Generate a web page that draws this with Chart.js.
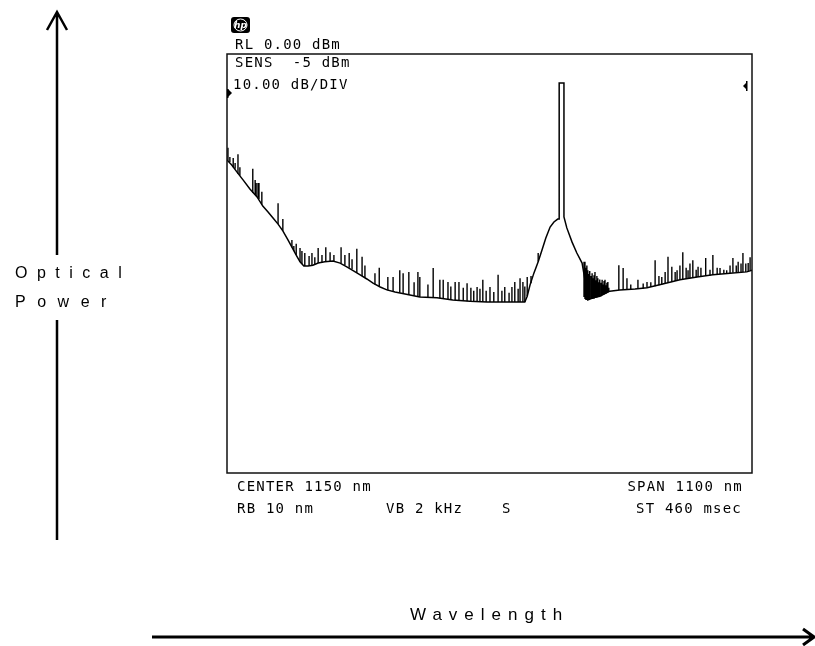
<!DOCTYPE html>
<html>
<head>
<meta charset="utf-8">
<script src="https://cdn.jsdelivr.net/npm/chart.js@4/dist/chart.umd.min.js"></script>
<style>
  html, body { margin: 0; padding: 0; background: #fff; }
  canvas { display: block; }
</style>
</head>
<body>
<canvas id="osa" width="815" height="646"></canvas>
<script>
// smooth part of the trace: wavelength (nm), power (dBm)
const baseNm = [
  600, 610, 621, 634, 648, 663, 675, 686, 696, 707, 717, 728, 736, 745, 753, 761, 770, 780, 791,
  805, 822, 837, 851, 866, 879, 893, 906, 921, 935, 952, 973, 1004, 1040, 1073, 1109, 1145, 1172,
  1203, 1224, 1229, 1235, 1243, 1252, 1260, 1268, 1277, 1285, 1293, 1296, 1296, 1306, 1306, 1312,
  1323, 1333, 1344, 1350, 1356, 1367, 1381, 1402, 1423, 1455, 1480, 1513, 1549, 1585, 1618, 1654,
  1689, 1700
]
const baseDbm = [
  -25.3, -26.5, -28.2, -30.1, -32.2, -34.1, -36.3, -37.7, -39.1, -40.6, -42.2, -44.4, -46.1, -48.0, -49.6, -50.6, -50.6, -50.4, -49.9,
  -49.6, -49.4, -49.9, -50.8, -51.8, -52.7, -53.7, -54.7, -55.6, -56.3, -56.8, -57.3, -58.0, -58.2, -58.7, -59.0, -59.2, -59.2,
  -59.2, -59.2, -57.8, -55.1, -52.3, -49.6, -46.8, -43.9, -41.3, -40.1, -39.4, -39.4, -6.9, -6.9, -38.9, -41.5,
  -44.9, -47.5, -49.9, -53.9, -58.7, -58.2, -57.8, -56.6, -56.3, -56.1, -55.8, -54.9, -53.9, -53.2, -52.7, -52.3,
  -52.0, -51.6
]

// noise spikes on the trace: wavelength (nm), tip and foot (dBm)
const spikeNm = [
  602, 606, 613, 617, 623, 627, 654, 659, 661, 665, 667, 673, 707, 717, 736, 740, 745, 753, 757, 763,
  772, 778, 784, 791, 799, 807, 816, 824, 839, 847, 856, 862, 872, 883, 889, 910, 919, 937, 948, 962,
  969, 981, 992, 1000, 1004, 1021, 1032, 1046, 1053, 1063, 1069, 1078, 1086, 1095, 1103, 1111, 1117, 1124,
  1130, 1136, 1143, 1151, 1159, 1168, 1176, 1182, 1191, 1197, 1203, 1210, 1214, 1220, 1224, 1229, 1237, 1252,
  1348, 1350, 1352, 1354, 1356, 1358, 1360, 1363, 1365, 1367, 1369, 1371, 1373, 1375, 1377, 1379, 1381, 1384,
  1386, 1388, 1390, 1392, 1394, 1396, 1398, 1400,
  1421, 1430, 1438, 1446, 1461, 1472, 1480, 1488, 1497, 1505, 1511, 1518, 1524, 1532, 1539, 1543, 1549, 1555,
  1562, 1566, 1570, 1576, 1583, 1587, 1593, 1603, 1612, 1618, 1627, 1633, 1641, 1647, 1654, 1660, 1667, 1671,
  1677, 1681, 1687, 1692, 1696
]
const spikeTop = [
  -22.4, -24.6, -24.8, -26.0, -23.9, -27.0, -27.4, -30.1, -30.8, -30.8, -30.8, -32.9, -35.6, -39.4, -44.4, -45.8, -45.3, -46.3, -47.0, -47.5,
  -48.2, -47.5, -48.5, -46.3, -48.0, -46.1, -47.3, -48.0, -46.1, -48.0, -47.5, -49.0, -46.5, -48.4, -50.5, -52.3, -51.0, -53.2, -53.2, -51.6,
  -52.3, -52.0, -54.5, -52.0, -53.2, -55.0, -51.1, -53.9, -53.9, -54.4, -55.5, -54.4, -54.4, -55.8, -54.7, -55.8, -56.5, -55.6,
  -56.0, -53.9, -56.5, -55.6, -56.8, -52.7, -56.5, -55.6, -57.0, -55.6, -54.4, -56.0, -53.5, -54.4, -55.5, -53.2, -53.0, -47.5,
  -49.6, -49.6, -51.0, -50.5, -51.6, -52.5, -51.8, -53.0, -52.3, -53.5, -52.8, -52.0, -54.0, -53.0, -53.5, -54.5, -53.8, -54.6,
  -53.9, -55.0, -54.2, -53.9, -55.2, -54.6, -54.4, -55.8,
  -50.4, -51.1, -53.5, -55.0, -53.9, -54.8, -54.4, -54.5, -49.2, -53.0, -53.2, -52.0, -48.4, -50.8, -52.0, -51.6, -50.5, -47.3,
  -51.0, -51.6, -50.0, -49.2, -51.5, -50.8, -51.0, -48.7, -51.5, -48.0, -51.0, -51.1, -51.5, -51.6, -50.5, -48.7, -50.5, -49.6,
  -50.0, -47.5, -50.0, -49.9, -48.5
]
const spikeFoot = [
  -25.5, -25.8, -27.0, -27.4, -28.6, -29.0, -33.2, -33.6, -33.9, -34.3, -34.6, -36.0, -40.6, -42.2, -46.1, -47.0, -48.0, -49.6, -50.1, -50.6,
  -50.6, -50.4, -50.2, -49.9, -49.8, -49.6, -49.5, -49.5, -50.0, -50.4, -51.0, -51.4, -52.2, -53.0, -53.4, -55.0, -55.4, -56.4, -56.7, -57.0,
  -57.1, -57.5, -57.7, -57.9, -58.0, -58.1, -58.2, -58.3, -58.4, -58.5, -58.6, -58.7, -58.8, -58.9, -59.0, -59.0, -59.1, -59.1,
  -59.1, -59.2, -59.2, -59.2, -59.2, -59.2, -59.2, -59.2, -59.2, -59.2, -59.2, -59.2, -59.2, -59.2, -59.2, -57.8, -54.7, -49.6,
  -58.0, -58.5, -58.7, -58.7, -58.7, -58.7, -58.5, -58.5, -58.5, -58.4, -58.4, -58.2, -58.2, -58.1, -58.0, -58.0, -57.8, -57.8,
  -57.6, -57.5, -57.4, -57.3, -57.2, -57.0, -56.9, -56.8,
  -56.3, -56.3, -56.3, -56.2, -56.1, -56.0, -55.8, -55.6, -55.4, -55.2, -55.0, -54.7, -54.6, -54.4, -54.2, -54.1, -53.9, -53.8,
  -53.7, -53.6, -53.5, -53.4, -53.3, -53.2, -53.1, -53.0, -52.9, -52.7, -52.6, -52.5, -52.4, -52.3, -52.3, -52.2, -52.1, -52.1,
  -52.0, -52.0, -52.0, -51.8, -51.7
]

// screen annotations
const topLines = ['RL 0.00 dBm', 'SENS  -5 dBm', '10.00 dB/DIV']
const bottomLeft = ['CENTER 1150 nm', 'RB 10 nm']
const bottomMid = ['VB 2 kHz', 'S']
const bottomRight = ['SPAN 1100 nm', 'ST 460 msec']
const yTitle = ['Optical', 'Power']
const xTitle = 'Wavelength'

const screenFont = '14px "DejaVu Sans Mono", monospace'

const decorations = {
  id: 'decorations',
  afterDraw(chart) {
    const ctx = chart.ctx
    const a = chart.chartArea
    ctx.save()

    // graticule frame
    ctx.strokeStyle = '#111'
    ctx.lineWidth = 1.5
    ctx.strokeRect(a.left, a.top, a.right - a.left, a.bottom - a.top)

    // hp logo
    ctx.fillStyle = '#000'
    ctx.beginPath()
    ctx.roundRect(231, 17, 19, 16, 3)
    ctx.fill()
    ctx.strokeStyle = '#fff'
    ctx.lineWidth = 1
    ctx.beginPath()
    ctx.ellipse(240.5, 25, 6.5, 6, 0, 0, Math.PI * 2)
    ctx.stroke()
    ctx.fillStyle = '#fff'
    ctx.font = 'italic bold 9px "DejaVu Sans", sans-serif'
    ctx.textAlign = 'center'
    ctx.textBaseline = 'middle'
    ctx.fillText('hp', 240.5, 25.5)

    // screen text
    ctx.fillStyle = '#000'
    ctx.font = screenFont
    ctx.letterSpacing = '1.2px'
    ctx.textBaseline = 'alphabetic'
    ctx.textAlign = 'left'
    ctx.fillText(topLines[0], 235, 49)
    ctx.fillText(topLines[1], 235, 67)
    ctx.fillText(topLines[2], 233, 89)
    ctx.fillText(bottomLeft[0], 237, 491)
    ctx.fillText(bottomLeft[1], 237, 513)
    ctx.fillText(bottomMid[0], 386, 513)
    ctx.fillText(bottomMid[1], 502, 513)
    ctx.textAlign = 'right'
    ctx.fillText(bottomRight[0], 743, 491)
    ctx.fillText(bottomRight[1], 742, 513)

    // reference level markers
    ctx.beginPath()
    ctx.moveTo(228, 89); ctx.lineTo(232, 93); ctx.lineTo(228, 97); ctx.closePath()
    ctx.fill()
    ctx.fillRect(227, 89, 1.5, 9)
    ctx.beginPath()
    ctx.moveTo(747, 82); ctx.lineTo(743, 86); ctx.lineTo(747, 90); ctx.closePath()
    ctx.fill()
    ctx.fillRect(746, 81, 1.5, 10)

    // axis titles
    ctx.textAlign = 'left'
    ctx.font = '16px "Liberation Sans", Arial, sans-serif'
    ctx.letterSpacing = '9.5px'
    ctx.fillText(yTitle[0], 15, 278)
    ctx.letterSpacing = '11.5px'
    ctx.fillText(yTitle[1], 15, 307)
    ctx.letterSpacing = '7px'
    ctx.font = '17px "Liberation Sans", Arial, sans-serif'
    ctx.fillText(xTitle, 410, 620)
    ctx.letterSpacing = '0px'

    // arrows
    ctx.strokeStyle = '#000'
    ctx.lineWidth = 2.5
    ctx.lineCap = 'butt'
    ctx.beginPath()
    ctx.moveTo(57, 13); ctx.lineTo(57, 255)
    ctx.moveTo(57, 320); ctx.lineTo(57, 540)
    ctx.moveTo(47, 30); ctx.lineTo(57, 12); ctx.lineTo(67, 30)
    ctx.stroke()
    ctx.lineWidth = 3
    ctx.beginPath()
    ctx.moveTo(152, 637); ctx.lineTo(813, 637)
    ctx.moveTo(803, 629); ctx.lineTo(814, 637); ctx.lineTo(803, 645)
    ctx.stroke()

    ctx.restore()
  }
}

new Chart(document.getElementById('osa'), {
  type: 'line',
  data: {
    datasets: [
      {
        data: baseNm.map((w, i) => ({ x: w, y: baseDbm[i] })),
        borderColor: '#000',
        borderWidth: 1.5,
        pointRadius: 0,
        tension: 0,
        fill: false,
      },
      {
        data: spikeNm.flatMap((w, i) => [
          { x: w, y: spikeFoot[i] },
          { x: w, y: spikeTop[i] },
          { x: w, y: null },
        ]),
        borderColor: '#000',
        borderWidth: 1.4,
        pointRadius: 0,
        tension: 0,
        spanGaps: false,
        fill: false,
      },
    ],
  },
  options: {
    responsive: false,
    animation: false,
    devicePixelRatio: 1,
    layout: { padding: { left: 227, top: 54, right: 63, bottom: 173 } },
    scales: {
      x: { type: 'linear', min: 600, max: 1700, display: false },
      y: { type: 'linear', min: -100, max: 0, display: false },
    },
    plugins: {
      legend: { display: false },
      tooltip: { enabled: false },
    },
  },
  plugins: [decorations],
})
</script>
</body>
</html>
